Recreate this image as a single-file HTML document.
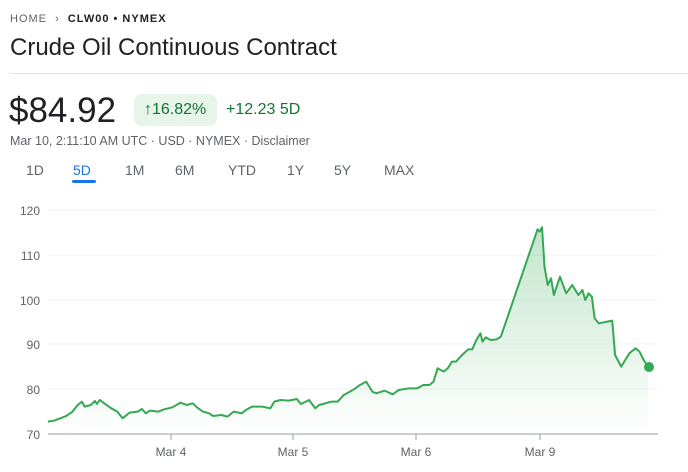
<!DOCTYPE html>
<html><head><meta charset="utf-8"><style>
body{margin:0;width:688px;height:472px;background:#fff;font-family:"Liberation Sans",Arial,sans-serif;position:relative;overflow:hidden}
.a{position:absolute;white-space:nowrap}
</style></head><body>
<div class="a" style="left:10px;top:13px;font-size:11px;letter-spacing:1px;color:#5f6368">HOME <span style="margin:0 4px">&#x203A;</span> <span style="color:#202124;font-weight:bold">CLW00 • NYMEX</span></div>
<div class="a" style="left:10px;top:34px;font-size:24px;color:#202124">Crude Oil Continuous Contract</div>
<div class="a" style="left:10px;top:73px;width:678px;height:1px;background:#e0e0e0"></div>
<div class="a" style="left:9px;top:91px;font-size:35px;color:#202124">$84.92</div>
<div class="a" style="left:134px;top:94px;width:83px;height:32px;border-radius:8px;background:#e6f4ea"></div>
<div class="a" style="left:144px;top:101px;font-size:16px;color:#137333">&#x2191;16.82%</div>
<div class="a" style="left:226px;top:101px;font-size:16px;color:#137333">+12.23 5D</div>
<div class="a" style="left:10px;top:134px;font-size:12.5px;color:#5f6368">Mar 10, 2:11:10 AM UTC · USD · NYMEX · Disclaimer</div>
<div class="a" style="top:162px;font-size:14px;color:#5f6368;left:0">
<span class="a" style="left:26px">1D</span><span class="a" style="left:73px;color:#1a73e8">5D</span><span class="a" style="left:125px">1M</span><span class="a" style="left:175px">6M</span><span class="a" style="left:228px">YTD</span><span class="a" style="left:287px">1Y</span><span class="a" style="left:334px">5Y</span><span class="a" style="left:384px">MAX</span></div>
<div class="a" style="left:72px;top:180px;width:24px;height:3px;background:#1a73e8;border-radius:2px"></div>
<svg class="a" style="left:0;top:0" width="688" height="472">
<defs><linearGradient id="g" x1="0" y1="0" x2="0" y2="1"><stop offset="0" stop-color="#34a853" stop-opacity="0.3"/><stop offset="1" stop-color="#34a853" stop-opacity="0"/></linearGradient></defs>
<g stroke="#f1f3f4" stroke-width="1">
<line x1="48" y1="210" x2="658" y2="210"/><line x1="48" y1="255" x2="658" y2="255"/><line x1="48" y1="300" x2="658" y2="300"/><line x1="48" y1="344" x2="658" y2="344"/><line x1="48" y1="389" x2="658" y2="389"/></g>
<line x1="48" y1="434" x2="658" y2="434" stroke="#9aa0a6"/>
<g stroke="#9aa0a6"><line x1="171" y1="434" x2="171" y2="440"/><line x1="293" y1="434" x2="293" y2="440"/><line x1="416" y1="434" x2="416" y2="440"/><line x1="540" y1="434" x2="540" y2="440"/></g>
<g font-size="12" fill="#5f6368" text-anchor="end"><text x="40" y="215">120</text><text x="40" y="260">110</text><text x="40" y="305">100</text><text x="40" y="349">90</text><text x="40" y="394">80</text><text x="40" y="439">70</text></g>
<g font-size="12" fill="#5f6368" text-anchor="middle"><text x="171" y="456">Mar 4</text><text x="293" y="456">Mar 5</text><text x="416" y="456">Mar 6</text><text x="540" y="456">Mar 9</text></g>
<g transform="translate(29.6,200) scale(0.408,0.3333)">
<path fill="url(#g)" d="M45,665 L60,662 75,655 90,648 105,635 118,615 128,605 135,620 150,615 160,603 165,612 172,600 185,612 200,625 215,635 228,655 245,638 265,635 275,627 285,640 295,632 315,635 330,628 350,622 370,608 385,615 400,610 410,622 425,635 440,640 450,648 470,645 485,650 500,635 520,640 530,630 545,620 570,620 590,625 600,605 615,600 635,602 655,597 665,612 685,600 700,625 710,615 740,605 755,605 770,585 785,575 795,568 810,555 825,545 840,575 850,580 870,572 890,583 905,570 930,565 950,565 965,555 980,555 990,545 1000,505 1015,515 1025,505 1035,485 1045,485 1060,465 1075,448 1085,448 1095,420 1105,400 1110,425 1118,412 1130,420 1145,418 1155,410 1245,88 1250,95 1256,82 1262,200 1270,255 1278,235 1285,285 1300,230 1315,280 1330,255 1345,285 1355,270 1362,300 1370,280 1378,290 1385,355 1395,370 1428,362 1435,465 1450,500 1470,460 1485,445 1495,455 1505,480 1516,500 L1516,703 L45,703 Z"/>
<polyline fill="none" stroke="#34a853" stroke-width="2" vector-effect="non-scaling-stroke" stroke-linejoin="round" points="45,665 60,662 75,655 90,648 105,635 118,615 128,605 135,620 150,615 160,603 165,612 172,600 185,612 200,625 215,635 228,655 245,638 265,635 275,627 285,640 295,632 315,635 330,628 350,622 370,608 385,615 400,610 410,622 425,635 440,640 450,648 470,645 485,650 500,635 520,640 530,630 545,620 570,620 590,625 600,605 615,600 635,602 655,597 665,612 685,600 700,625 710,615 740,605 755,605 770,585 785,575 795,568 810,555 825,545 840,575 850,580 870,572 890,583 905,570 930,565 950,565 965,555 980,555 990,545 1000,505 1015,515 1025,505 1035,485 1045,485 1060,465 1075,448 1085,448 1095,420 1105,400 1110,425 1118,412 1130,420 1145,418 1155,410 1245,88 1250,95 1256,82 1262,200 1270,255 1278,235 1285,285 1300,230 1315,280 1330,255 1345,285 1355,270 1362,300 1370,280 1378,290 1385,355 1395,370 1428,362 1435,465 1450,500 1470,460 1485,445 1495,455 1505,480 1516,500"/>
</g>
<circle cx="649" cy="367" r="5" fill="#34a853"/>
</svg>
</body></html>
